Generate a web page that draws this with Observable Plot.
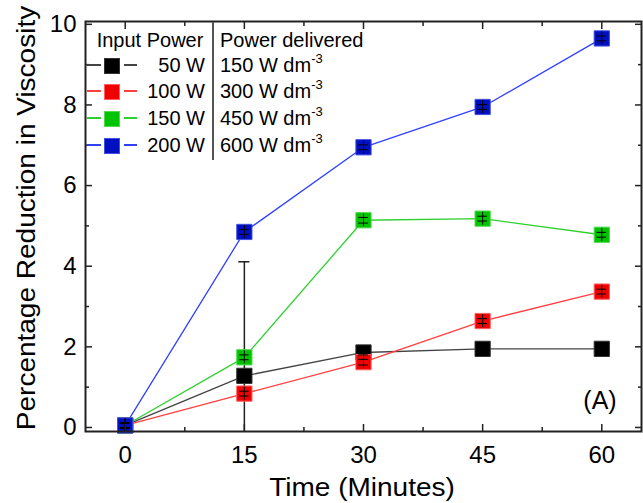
<!DOCTYPE html>
<html><head><meta charset="utf-8">
<script src="https://cdn.jsdelivr.net/npm/d3@7"></script>
<script src="https://cdn.jsdelivr.net/npm/@observablehq/plot@0.6"></script>
<style>
body{margin:0;background:#fff;font-family:"Liberation Sans",Arial,sans-serif;color:#000;}
#wrap{position:relative;width:643px;height:503px;overflow:hidden;}
.abs{position:absolute;white-space:nowrap;}
sup{font-size:13px;vertical-align:9px;line-height:0;}
</style></head><body><div id="wrap"></div>
<script>
const times = [0, 15, 30, 45, 60];
const minorX = [7.5, 22.5, 37.5, 52.5];
const majorY = [0, 2, 4, 6, 8, 10];
const minorY = [1, 3, 5, 7, 9];
const seriesNames = ["50 W", "100 W", "150 W", "200 W"];
const delivered = ["150 W dm", "300 W dm", "450 W dm", "600 W dm"];
const fillColors = ["#000000", "#f00000", "#00c400", "#0010c0"];
const edgeColors = ["#333333", "#ff6060", "#50d850", "#4050e0"];
const lineColors = ["#444444", "#ff4040", "#30d030", "#3040ff"];
const v50  = [0.05, 1.28, 1.86, 1.95, 1.95];
const v100 = [0.05, 0.84, 1.62, 2.64, 3.37];
const v150 = [0.05, 1.74, 5.14, 5.18, 4.78];
const v200 = [0.05, 4.85, 6.95, 7.95, 9.65];
const e50  = [0.06, 2.83, 0.06, 0.06, 0.06];
const e100 = [0.06, 0.06, 0.07, 0.06, 0.06];
const e150 = [0.06, 0.06, 0.07, 0.06, 0.06];
const e200 = [0.06, 0.06, 0.06, 0.06, 0.06];

const values = [v50, v100, v150, v200];
const errs = [e50, e100, e150, e200];
const rows = [];
values.forEach((vs, s) => vs.forEach((v, i) => rows.push({s, t: times[i], v, e: errs[s][i]})));
const big = rows.filter(d => d.e > 1);
const small = rows.filter(d => d.e < 1);

const marks = [];
seriesNames.forEach((n, s) => {
  marks.push(Plot.line(rows.filter(d => d.s === s), {x: "t", y: "v", stroke: lineColors[s], strokeWidth: 1.3}));
});
marks.push(Plot.ruleX(big, {x: "t", y1: d => d.v - d.e, y2: d => d.v + d.e, stroke: "#222", strokeWidth: 1.5, clip: true}));
marks.push(Plot.ruleY(big, {y: d => d.v + d.e, x1: d => d.t - 0.7, x2: d => d.t + 0.7, stroke: "#222", strokeWidth: 1.5}));
seriesNames.forEach((n, s) => {
  marks.push(Plot.dot(rows.filter(d => d.s === s), {x: "t", y: "v", symbol: "square", r: 8.6, fill: fillColors[s], stroke: edgeColors[s], strokeWidth: 1}));
});
marks.push(Plot.ruleX(small, {x: "t", y1: d => d.v - 0.16, y2: d => d.v + 0.16, stroke: "#000", strokeWidth: 1}));
marks.push(Plot.ruleY(small, {y: d => d.v + d.e, x1: d => d.t - 0.6, x2: d => d.t + 0.6, stroke: "#000", strokeWidth: 1}));
marks.push(Plot.ruleY(small, {y: d => d.v - d.e, x1: d => d.t - 0.6, x2: d => d.t + 0.6, stroke: "#000", strokeWidth: 1}));

const noText = () => "";
const tk = {stroke: "#222", strokeWidth: 1.5, label: null};
marks.push(
  Plot.axisX(times, {...tk, anchor: "bottom", tickSize: -7, tickFormat: noText}),
  Plot.axisX(minorX, {...tk, anchor: "bottom", tickSize: -4, tickFormat: noText}),
  Plot.axisX(times, {...tk, anchor: "top", tickSize: -7, tickFormat: noText}),
  Plot.axisX(minorX, {...tk, anchor: "top", tickSize: -4, tickFormat: noText}),
  Plot.axisY(majorY, {...tk, anchor: "left", tickSize: -7, tickFormat: noText}),
  Plot.axisY(minorY, {...tk, anchor: "left", tickSize: -4, tickFormat: noText}),
  Plot.axisY(majorY, {...tk, anchor: "right", tickSize: -7, tickFormat: noText}),
  Plot.axisY(minorY, {...tk, anchor: "right", tickSize: -4, tickFormat: noText}),
  Plot.axisX(times, {anchor: "bottom", tickSize: 0, tickPadding: 14, fontSize: 24, label: null, fill: "#000"}),
  Plot.axisY(majorY, {anchor: "left", tickSize: 0, tickPadding: 9, fontSize: 24, label: null, fill: "#000"}),
  Plot.frame({stroke: "#222", strokeWidth: 2})
);

const chart = Plot.plot({
  width: 643, height: 503,
  marginLeft: 85, marginRight: 2, marginTop: 21, marginBottom: 72,
  x: {domain: [-5, 65]},
  y: {domain: [-0.1, 10.07]},
  style: {fontFamily: "'Liberation Sans', Arial, sans-serif", color: "#000", background: "#fff"},
  marks
});
const wrap = document.getElementById("wrap");
wrap.appendChild(chart);

function add(html, css) {
  const d = document.createElement("div");
  d.className = "abs";
  d.innerHTML = html;
  Object.assign(d.style, css);
  wrap.appendChild(d);
  return d;
}
add("Time (Minutes)", {left: "362px", top: "487px", transform: "translate(-50%,-50%) scaleX(1.12)", fontSize: "25px"});
add("Percentage Reduction in Viscosity", {left: "26px", top: "218px", transform: "translate(-50%,-50%) rotate(-90deg) scaleX(1.12)", fontSize: "25px"});
add("(A)", {left: "600px", top: "400px", transform: "translate(-50%,-50%)", fontSize: "25px"});

add("Input Power", {left: "150px", top: "40px", transform: "translate(-50%,-50%)", fontSize: "20px"});
add("Power delivered", {left: "220px", top: "40px", transform: "translateY(-50%)", fontSize: "20px"});
add("", {left: "212px", top: "22px", width: "1.5px", height: "138px", background: "#555"});
const rowY = [65, 91, 118, 145];
seriesNames.forEach((n, s) => {
  const y = rowY[s];
  add("", {left: "87px", top: (y - 0.6) + "px", width: "14px", height: "1.3px", background: lineColors[s]});
  add("", {left: "124px", top: (y - 0.6) + "px", width: "13px", height: "1.3px", background: lineColors[s]});
  add("", {left: "104px", top: (y - 7.5) + "px", width: "14px", height: "14px", background: fillColors[s], border: "1px solid " + edgeColors[s]});
  add(n, {right: (643 - 205) + "px", top: y + "px", transform: "translateY(-50%)", fontSize: "20px"});
  add(delivered[s] + "<sup>-3</sup>", {left: "220px", top: y + "px", transform: "translateY(-50%)", fontSize: "20px"});
});
</script></body></html>
